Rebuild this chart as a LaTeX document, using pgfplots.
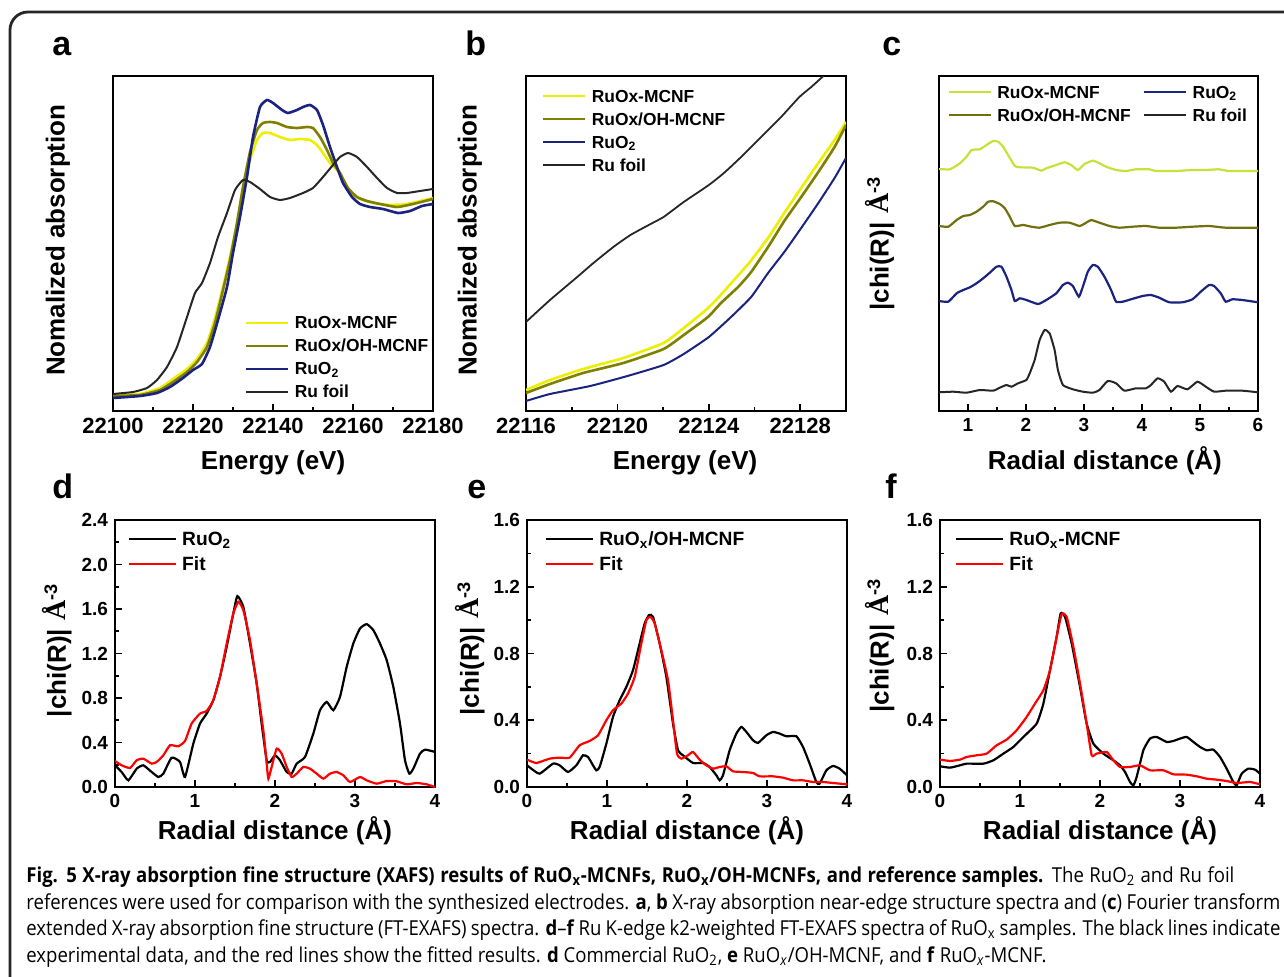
\documentclass[border=0pt]{standalone}
\usepackage{pgfplots}
\pgfplotsset{compat=1.18}
\usepackage{graphicx}
\usepackage{fontspec}
\setmainfont{Liberation Sans}
\newfontfamily\capfont{Open Sans}
\newfontfamily\serifA{Liberation Serif}
\definecolor{cyel}{HTML}{EEEE00}
\definecolor{colive}{HTML}{7F7F00}
\definecolor{cnavy}{HTML}{1A237E}
\definecolor{clime}{HTML}{C6E23A}
\definecolor{colive2}{HTML}{707010}
\definecolor{cfoil}{HTML}{262626}
\definecolor{cred}{HTML}{FF0000}
\newcommand{\labfont}{\bfseries\fontsize{13}{15}\selectfont}
\newcommand{\tickA}{\bfseries\fontsize{11}{13}\selectfont}
\newcommand{\tickC}{\bfseries\fontsize{9.5}{11}\selectfont}
\newcommand{\legA}{\bfseries\fontsize{8.7}{10}\selectfont}
\newcommand{\legD}{\bfseries\fontsize{9.6}{11}\selectfont}
\newcommand{\chilab}{|chi(R)|\,\,{\serifA\bfseries\fontsize{14}{15}\selectfont Å}\textsuperscript{-3}}
\newcommand{\capsize}{\capfont\fontsize{10.3}{12}\selectfont}
\newcommand{\capfour}{experimental data, and the red lines show the fitted results. \textbf{d} Commercial RuO\textsubscript{2}, \textbf{e} RuO\textsubscript{\textit{x}}/OH-MCNF, and \textbf{f} RuO\textsubscript{\textit{x}}-MCNF.}
\newlength{\capw}
\newlength{\wone}
\newlength{\wtwo}
\pgfplotsset{
  base/.style={scale only axis, axis line style={line width=1pt}, tick align=inside, tick pos=left,
    major tick length=3.5pt, minor tick length=2pt, every tick/.append style={line width=0.8pt, black},
    xlabel style={font=\labfont}, ylabel style={font=\labfont}, legend cell align=left,
    /pgf/number format/assume math mode=true, scaled ticks=false,
    legend style={draw=none, fill=none, inner sep=0pt, outer sep=0pt, anchor=north west, cells={anchor=west}}},
  legA/.style={legend style={font=\legA, row sep=2.5pt, column sep=2.6pt, nodes={inner sep=0pt, text height=7.5pt, text depth=1.5pt}},
    legend image code/.code={\draw[##1] (0pt,0pt) -- (21pt,0pt);}},
  legD/.style={legend style={font=\legD, row sep=2.7pt, column sep=2.6pt, nodes={inner sep=0pt, text height=8pt, text depth=1.8pt}},
    legend image code/.code={\draw[##1] (0pt,0pt) -- (23.5pt,0pt);}},
  cstyle/.style={base, width=160pt, height=133.5pt, xmin=0, xmax=4, xtick={0,1,2,3,4}, xticklabels={0,1,2,3,4},
    minor x tick num=1, minor y tick num=1, xticklabel style={font=\tickC}, yticklabel style={font=\tickC},
    xlabel={Radial distance (Å)}, ylabel={\chilab},
    xlabel style={at={(axis description cs:0.5,-0.165)}, anchor=center}, legD},
}
\begin{document}%
\settowidth{\capw}{\capsize\capfour}%
\setlength{\wone}{\dimexpr\capw*604/510\relax}%
\setlength{\wtwo}{\dimexpr\capw*627/510\relax}%
\begin{tikzpicture}[x=0.5pt,y=0.5pt]
\useasboundingbox (0,0) rectangle (1284,976);
\draw[line width=1.4pt, rounded corners=9pt, black!85] (10,-20) -- (10,964) -- (1310,964);
\node[anchor=base west, inner sep=0pt, font=\bfseries\fontsize{17}{20}\selectfont] at (52,920) {a};
\node[anchor=base west, inner sep=0pt, font=\bfseries\fontsize{17}{20}\selectfont] at (465,920) {b};
\node[anchor=base west, inner sep=0pt, font=\bfseries\fontsize{17}{20}\selectfont] at (882,920) {c};
\node[anchor=base west, inner sep=0pt, font=\bfseries\fontsize{17}{20}\selectfont] at (52,478) {d};
\node[anchor=base west, inner sep=0pt, font=\bfseries\fontsize{17}{20}\selectfont] at (467,478) {e};
\node[anchor=base west, inner sep=0pt, font=\bfseries\fontsize{17}{20}\selectfont] at (885,478) {f};

% ---------------- panel a
\begin{axis}[base, at={(56.5pt,282.5pt)}, anchor=south west, width=160pt, height=167.5pt,
  xmin=22100, xmax=22180, ymin=-0.08, ymax=1.595,
  xtick={22100,22120,22140,22160,22180}, xticklabels={22100,22120,22140,22160,22180},
  minor x tick num=1, ytick=\empty, xticklabel style={font=\tickA},
  xlabel={Energy (eV)}, ylabel={Nomalized absorption},
  xlabel style={at={(axis description cs:0.5,-0.155)}, anchor=center},
  ylabel style={at={(axis description cs:-0.172,0.51)}, anchor=center},
  legA, legend style={at={(axis description cs:0.4125,0.29)}}]
\addplot[cyel, line width=1.3pt, smooth, tension=0.3] coordinates {(22100,0)(22106.75,0.005)(22111.75,0.035)(22115,0.08)(22118.5,0.13)(22121,0.18)(22123.5,0.26)(22125.5,0.385)(22127.5,0.54)(22129.25,0.69)(22131,0.86)(22132.5,1.035)(22134.25,1.175)(22136,1.275)(22137.5,1.31)(22139.25,1.31)(22141.75,1.29)(22144.25,1.275)(22146.75,1.28)(22149.25,1.275)(22151,1.25)(22152.5,1.21)(22154.25,1.16)(22156,1.125)(22157.5,1.075)(22159.25,1.015)(22161.75,0.98)(22165,0.96)(22169.25,0.95)(22173.5,0.955)(22180,0.985)};
\addlegendentry{RuOx-MCNF}
\addplot[colive, line width=1.3pt, smooth, tension=0.3] coordinates {(22100,-0.005)(22106.75,0)(22111.75,0.025)(22115,0.065)(22118.5,0.115)(22121,0.165)(22123.5,0.24)(22125.5,0.36)(22127.5,0.525)(22129.25,0.675)(22131,0.86)(22132.5,1.04)(22134.25,1.215)(22136,1.325)(22137.5,1.36)(22139.25,1.365)(22141,1.36)(22143.5,1.34)(22146,1.335)(22148.5,1.34)(22150,1.335)(22151.75,1.29)(22153.5,1.225)(22155,1.16)(22156.75,1.11)(22158.75,1.035)(22161,0.99)(22163.5,0.97)(22166.75,0.955)(22171,0.94)(22175,0.955)(22180,0.98)};
\addlegendentry{RuOx/OH-MCNF}
\addplot[cnavy, line width=1.3pt, smooth, tension=0.3] coordinates {(22100,-0.015)(22106.75,-0.005)(22111,0.01)(22114.25,0.04)(22117.5,0.085)(22120,0.125)(22122.25,0.155)(22124.25,0.24)(22126.25,0.375)(22128.5,0.54)(22130,0.71)(22131.75,0.89)(22133.5,1.09)(22135,1.29)(22136.75,1.44)(22138.5,1.475)(22140,1.46)(22142.25,1.425)(22143.75,1.41)(22146,1.425)(22147.5,1.44)(22149.25,1.45)(22151,1.425)(22152.5,1.35)(22154.25,1.24)(22156,1.14)(22157.5,1.06)(22159.75,0.99)(22161.75,0.955)(22164.25,0.94)(22167.5,0.93)(22171.25,0.91)(22174.25,0.92)(22177.25,0.945)(22180,0.955)};
\addlegendentry{RuO\textsubscript{2}}
\addplot[cfoil, line width=1pt, smooth, tension=0.3] coordinates {(22100,0.005)(22105,0.015)(22108.5,0.035)(22111,0.075)(22113.5,0.14)(22116,0.24)(22118.5,0.39)(22120.5,0.51)(22122.25,0.56)(22124.25,0.66)(22126.25,0.79)(22128.5,0.91)(22130.5,1.025)(22132.5,1.075)(22134.25,1.065)(22136.75,1.03)(22139.25,0.99)(22141.75,0.975)(22144.25,0.985)(22147.5,1.01)(22150,1.035)(22152.5,1.09)(22155,1.15)(22156.75,1.19)(22158.75,1.21)(22161,1.19)(22163.5,1.14)(22166,1.085)(22168.5,1.035)(22171,1.01)(22173.5,1.01)(22176.75,1.02)(22180,1.03)};
\addlegendentry{Ru foil}
\end{axis}

% ---------------- panel b (x = E - 22100 eV)
\begin{axis}[base, at={(263pt,282.5pt)}, anchor=south west, width=160pt, height=167.5pt,
  xmin=16, xmax=30, ymin=0.05, ymax=0.8875,
  xtick={16,20,24,28}, xticklabels={22116,22120,22124,22128},
  minor x tick num=1, ytick=\empty, xticklabel style={font=\tickA},
  xlabel={Energy (eV)}, ylabel={Nomalized absorption},
  xlabel style={at={(axis description cs:0.497,-0.155)}, anchor=center},
  ylabel style={at={(axis description cs:-0.175,0.51)}, anchor=center},
  legA, legend style={at={(axis description cs:0.05,0.967)}}]
\addplot[cyel, line width=1.3pt, smooth, tension=0.3] coordinates {(16,0.1025)(17.05,0.1275)(18.5,0.155)(20.26,0.1825)(22.02,0.22)(22.9,0.2575)(23.87,0.3025)(24.4,0.3325)(25.1,0.3775)(25.76,0.42)(26.59,0.4825)(27.3,0.545)(28.04,0.6075)(28.79,0.67)(29.5,0.7275)(30,0.7725)};
\addlegendentry{RuOx-MCNF}
\addplot[colive, line width=1.3pt, smooth, tension=0.3] coordinates {(16,0.095)(17.05,0.1175)(18.5,0.145)(20.26,0.17)(22.02,0.205)(22.9,0.24)(23.96,0.285)(24.53,0.32)(25.28,0.36)(25.85,0.3975)(26.59,0.46)(27.3,0.525)(28.04,0.585)(28.79,0.6475)(29.5,0.71)(30,0.765)};
\addlegendentry{RuOx/OH-MCNF}
\addplot[cnavy, line width=1pt, smooth, tension=0.3] coordinates {(16,0.075)(17.05,0.0925)(18.81,0.1125)(20.44,0.1375)(22.02,0.165)(22.9,0.1925)(24.0,0.235)(24.97,0.285)(25.85,0.335)(26.59,0.395)(27.3,0.4475)(28.04,0.5075)(28.79,0.57)(29.5,0.6325)(30,0.6825)};
\addlegendentry{RuO\textsubscript{2}}
\addplot[cfoil, line width=0.9pt, smooth, tension=0.3] coordinates {(16,0.2725)(17.05,0.3275)(18.24,0.385)(18.95,0.42)(19.82,0.46)(20.57,0.49)(21.45,0.5175)(22.02,0.535)(22.9,0.5725)(24.0,0.615)(24.66,0.645)(25.41,0.685)(26.29,0.735)(27.16,0.785)(27.96,0.835)(28.48,0.86)(29.01,0.8875)(29.5,0.915)};
\addlegendentry{Ru foil}
\end{axis}

% ---------------- panel c
\begin{axis}[base, at={(469.5pt,282.5pt)}, anchor=south west, width=159.5pt, height=167.5pt,
  xmin=0.5, xmax=6, ymin=0, ymax=3.35,
  xtick={1,2,3,4,5,6}, xticklabels={1,2,3,4,5,6}, minor x tick num=1, ytick=\empty,
  xticklabel style={font=\tickC},
  xlabel={Radial distance (Å)}, ylabel={\chilab},
  xlabel style={at={(axis description cs:0.52,-0.149)}, anchor=center},
  ylabel style={at={(axis description cs:-0.185,0.5)}, anchor=center},
  legA, legend columns=2, legend style={at={(axis description cs:0.028,0.979)}, /tikz/every even column/.append style={column sep=6.3pt}}]
\addplot[clime, line width=1.1pt, smooth, tension=0.3] coordinates {(0.5,2.42)(0.689,2.417)(0.861,2.477)(0.975,2.543)(1.061,2.61)(1.204,2.617)(1.319,2.66)(1.434,2.70)(1.519,2.693)(1.605,2.643)(1.691,2.56)(1.806,2.45)(1.892,2.437)(2.121,2.433)(2.264,2.403)(2.35,2.427)(2.522,2.46)(2.665,2.487)(2.779,2.46)(2.894,2.41)(3.009,2.47)(3.152,2.503)(3.266,2.477)(3.381,2.443)(3.553,2.41)(3.725,2.4)(3.896,2.417)(4.125,2.417)(4.24,2.4)(4.584,2.4)(4.87,2.41)(5.099,2.41)(5.328,2.417)(5.5,2.4)(6,2.4)};
\addlegendentry{RuOx-MCNF}
\addplot[cnavy, line width=1.1pt, smooth, tension=0.3] coordinates {(0.5,1.10)(0.66,1.093)(0.804,1.177)(0.918,1.21)(1.033,1.237)(1.147,1.277)(1.262,1.327)(1.376,1.383)(1.491,1.443)(1.577,1.443)(1.663,1.343)(1.749,1.21)(1.806,1.10)(1.892,1.127)(2.006,1.11)(2.207,1.07)(2.35,1.11)(2.522,1.177)(2.636,1.26)(2.722,1.283)(2.808,1.25)(2.911,1.143)(2.98,1.243)(3.066,1.393)(3.152,1.46)(3.238,1.443)(3.352,1.343)(3.467,1.21)(3.553,1.093)(3.667,1.093)(3.81,1.117)(4.011,1.15)(4.154,1.16)(4.297,1.133)(4.469,1.087)(4.698,1.087)(4.87,1.117)(5.013,1.193)(5.156,1.26)(5.242,1.25)(5.357,1.177)(5.443,1.093)(5.557,1.117)(5.729,1.11)(6,1.087)};
\addlegendentry{RuO\textsubscript{2}}
\addplot[colive2, line width=1.1pt, smooth, tension=0.3] coordinates {(0.5,1.85)(0.66,1.843)(0.804,1.91)(0.918,1.95)(1.033,1.96)(1.147,1.993)(1.262,2.043)(1.348,2.093)(1.434,2.097)(1.548,2.07)(1.634,2.027)(1.72,1.943)(1.806,1.85)(1.949,1.86)(2.092,1.843)(2.235,1.833)(2.407,1.86)(2.579,1.883)(2.751,1.883)(2.923,1.85)(3.037,1.883)(3.123,1.91)(3.266,1.883)(3.438,1.85)(3.61,1.833)(3.839,1.843)(4.068,1.85)(4.297,1.833)(4.584,1.833)(4.87,1.843)(5.156,1.85)(5.443,1.833)(6,1.833)};
\addlegendentry{RuOx/OH-MCNF}
\addplot[cfoil, line width=1pt, smooth, tension=0.3] coordinates {(0.5,0.187)(0.746,0.193)(0.975,0.183)(1.204,0.21)(1.434,0.203)(1.548,0.233)(1.663,0.26)(1.749,0.243)(1.863,0.277)(2.006,0.31)(2.064,0.377)(2.149,0.51)(2.235,0.71)(2.321,0.81)(2.407,0.777)(2.493,0.61)(2.55,0.41)(2.636,0.26)(2.808,0.217)(2.98,0.193)(3.152,0.183)(3.266,0.21)(3.409,0.30)(3.553,0.277)(3.696,0.203)(3.896,0.227)(4.068,0.227)(4.154,0.26)(4.269,0.327)(4.383,0.293)(4.498,0.193)(4.612,0.25)(4.784,0.217)(4.956,0.293)(5.1,0.243)(5.242,0.193)(5.443,0.203)(5.729,0.203)(6,0.187)};
\addlegendentry{Ru foil}
\end{axis}

% ---------------- panel d
\begin{axis}[cstyle, at={(57.5pt,94.5pt)}, anchor=south west,
  ymin=0, ymax=2.4, ytick={0,0.4,0.8,1.2,1.6,2.0,2.4}, yticklabels={0.0,0.4,0.8,1.2,1.6,2.0,2.4},
  ylabel style={at={(axis description cs:-0.181,0.513)}, anchor=center},
  legend style={at={(axis description cs:0.04,0.966)}}]
\addplot[black, line width=1.1pt, smooth, tension=0.3] coordinates {(0,0.195)(0.083,0.135)(0.167,0.06)(0.271,0.165)(0.354,0.195)(0.458,0.135)(0.542,0.09)(0.604,0.12)(0.708,0.264)(0.8125,0.225)(0.875,0.09)(0.979,0.39)(1.0625,0.57)(1.146,0.66)(1.229,0.78)(1.3125,0.99)(1.396,1.26)(1.479,1.56)(1.529,1.716)(1.604,1.62)(1.6875,1.29)(1.771,0.93)(1.833,0.57)(1.896,0.24)(1.9375,0.225)(2.0,0.285)(2.0625,0.24)(2.146,0.135)(2.208,0.12)(2.271,0.21)(2.375,0.27)(2.479,0.48)(2.5625,0.69)(2.646,0.765)(2.729,0.69)(2.8125,0.81)(2.896,1.08)(2.979,1.29)(3.0625,1.425)(3.146,1.464)(3.229,1.41)(3.3125,1.29)(3.396,1.14)(3.479,0.90)(3.5625,0.57)(3.625,0.24)(3.679,0.12)(3.729,0.165)(3.8125,0.30)(3.875,0.336)(4.0,0.315)};
\addlegendentry{RuO\textsubscript{2}}
\addplot[cred, line width=1.1pt, smooth, tension=0.3] coordinates {(0,0.234)(0.083,0.195)(0.1875,0.171)(0.271,0.24)(0.354,0.255)(0.458,0.21)(0.521,0.225)(0.604,0.285)(0.6875,0.375)(0.792,0.366)(0.875,0.414)(0.958,0.57)(1.0625,0.66)(1.146,0.684)(1.229,0.78)(1.3125,0.99)(1.396,1.29)(1.479,1.56)(1.542,1.665)(1.604,1.59)(1.6875,1.32)(1.771,0.93)(1.854,0.51)(1.896,0.21)(1.917,0.075)(1.958,0.18)(2.021,0.345)(2.083,0.30)(2.146,0.18)(2.208,0.09)(2.271,0.12)(2.354,0.18)(2.4375,0.165)(2.521,0.12)(2.604,0.075)(2.6875,0.12)(2.771,0.135)(2.854,0.105)(2.9375,0.045)(3.0625,0.09)(3.146,0.06)(3.271,0.03)(3.396,0.054)(3.521,0.051)(3.646,0.024)(3.771,0.036)(3.896,0.024)(4.0,0.0)};
\addlegendentry{Fit}
\end{axis}

% ---------------- panel e
\begin{axis}[cstyle, at={(263.5pt,94.5pt)}, anchor=south west,
  ymin=0, ymax=1.6, ytick={0,0.4,0.8,1.2,1.6}, yticklabels={0.0,0.4,0.8,1.2,1.6},
  ylabel style={at={(axis description cs:-0.178,0.52)}, anchor=center},
  legend style={at={(axis description cs:0.056,0.966)}}]
\addplot[black, line width=1.1pt, smooth, tension=0.3] coordinates {(0,0.13)(0.054,0.11)(0.158,0.08)(0.325,0.14)(0.408,0.13)(0.5125,0.09)(0.617,0.13)(0.7,0.19)(0.7625,0.18)(0.825,0.13)(0.867,0.10)(0.908,0.12)(0.992,0.26)(1.075,0.42)(1.158,0.52)(1.242,0.60)(1.325,0.70)(1.408,0.86)(1.471,0.98)(1.525,1.03)(1.575,1.02)(1.658,0.86)(1.742,0.66)(1.825,0.38)(1.8875,0.22)(1.95,0.19)(2.075,0.144)(2.2,0.144)(2.283,0.12)(2.367,0.07)(2.408,0.04)(2.45,0.07)(2.533,0.22)(2.617,0.32)(2.679,0.36)(2.742,0.33)(2.825,0.28)(2.8875,0.264)(2.992,0.31)(3.075,0.33)(3.158,0.32)(3.242,0.304)(3.367,0.304)(3.45,0.24)(3.533,0.14)(3.617,0.03)(3.658,0.02)(3.742,0.10)(3.825,0.126)(3.908,0.11)(4.0,0.07)};
\addlegendentry{RuO\textsubscript{x}/OH-MCNF}
\addplot[cred, line width=1.1pt, smooth, tension=0.3] coordinates {(0,0.164)(0.117,0.144)(0.283,0.17)(0.408,0.176)(0.533,0.176)(0.658,0.25)(0.783,0.276)(0.8875,0.31)(0.992,0.40)(1.075,0.46)(1.179,0.50)(1.2625,0.56)(1.346,0.66)(1.429,0.86)(1.492,1.00)(1.542,1.02)(1.596,0.98)(1.679,0.82)(1.7625,0.64)(1.825,0.40)(1.875,0.20)(1.929,0.17)(2.0125,0.19)(2.075,0.21)(2.158,0.164)(2.242,0.13)(2.325,0.11)(2.408,0.12)(2.492,0.124)(2.575,0.094)(2.7,0.09)(2.825,0.084)(2.908,0.064)(3.075,0.064)(3.2,0.056)(3.325,0.04)(3.45,0.04)(3.575,0.03)(3.7,0.03)(3.825,0.024)(4.0,0.016)};
\addlegendentry{Fit}
\end{axis}

% ---------------- panel f
\begin{axis}[cstyle, at={(470pt,94.5pt)}, anchor=south west,
  ymin=0, ymax=1.6, ytick={0,0.4,0.8,1.2,1.6}, yticklabels={0.0,0.4,0.8,1.2,1.6},
  ylabel style={at={(axis description cs:-0.1875,0.53)}, anchor=center},
  legend style={at={(axis description cs:0.047,0.966)}}]
\addplot[black, line width=1.1pt, smooth, tension=0.3] coordinates {(0,0.124)(0.125,0.116)(0.25,0.13)(0.333,0.14)(0.542,0.14)(0.667,0.16)(0.792,0.20)(0.917,0.24)(1.042,0.30)(1.208,0.38)(1.292,0.50)(1.375,0.70)(1.458,0.90)(1.508,1.04)(1.5625,1.02)(1.646,0.86)(1.75,0.60)(1.833,0.38)(1.917,0.26)(2.042,0.20)(2.167,0.16)(2.25,0.13)(2.3125,0.09)(2.375,0.03)(2.417,0.01)(2.458,0.06)(2.542,0.22)(2.625,0.29)(2.708,0.30)(2.833,0.27)(2.917,0.276)(3.0,0.29)(3.083,0.30)(3.167,0.27)(3.25,0.24)(3.333,0.22)(3.417,0.224)(3.5,0.18)(3.583,0.11)(3.667,0.03)(3.708,0.01)(3.771,0.08)(3.854,0.11)(3.9375,0.104)(4.0,0.08)};
\addlegendentry{RuO\textsubscript{x}-MCNF}
\addplot[cred, line width=1.1pt, smooth, tension=0.3] coordinates {(0,0.164)(0.125,0.156)(0.25,0.164)(0.333,0.18)(0.458,0.19)(0.583,0.20)(0.708,0.25)(0.833,0.284)(0.958,0.34)(1.083,0.42)(1.1875,0.50)(1.292,0.58)(1.375,0.70)(1.458,0.90)(1.521,1.036)(1.583,1.02)(1.667,0.84)(1.75,0.62)(1.833,0.38)(1.896,0.19)(1.958,0.20)(2.083,0.21)(2.167,0.16)(2.25,0.12)(2.375,0.12)(2.5,0.13)(2.625,0.10)(2.792,0.10)(2.917,0.076)(3.083,0.074)(3.208,0.064)(3.333,0.05)(3.458,0.044)(3.583,0.036)(3.708,0.024)(3.875,0.03)(4.0,0.016)};
\addlegendentry{Fit}
\end{axis}

% ---------------- caption (one condensed font, lines 1-3 justified)
\node[anchor=base west, inner sep=0pt] at (26,94) {\resizebox{604pt}{\height}{\makebox[\wone][s]{\capsize\textbf{Fig. 5 X-ray absorption fine structure (XAFS) results of RuO\textsubscript{x}-MCNFs, RuO\textsubscript{x}/OH-MCNFs, and reference samples.} The RuO\textsubscript{2} and Ru foil}}};
\node[anchor=base west, inner sep=0pt] at (26,67) {\resizebox{627pt}{\height}{\makebox[\wtwo][s]{\capsize references were used for comparison with the synthesized electrodes. \textbf{a}, \textbf{b} X-ray absorption near-edge structure spectra and (\textbf{c}) Fourier transform}}};
\node[anchor=base west, inner sep=0pt] at (26,41) {\resizebox{627pt}{\height}{\makebox[\wtwo][s]{\capsize extended X-ray absorption fine structure (FT-EXAFS) spectra. \textbf{d}–\textbf{f} Ru K-edge k2-weighted FT-EXAFS spectra of RuO\textsubscript{x} samples. The black lines indicate}}};
\node[anchor=base west, inner sep=0pt] at (26,14) {\resizebox{510pt}{\height}{\capsize\capfour}};
\end{tikzpicture}%
\end{document}
